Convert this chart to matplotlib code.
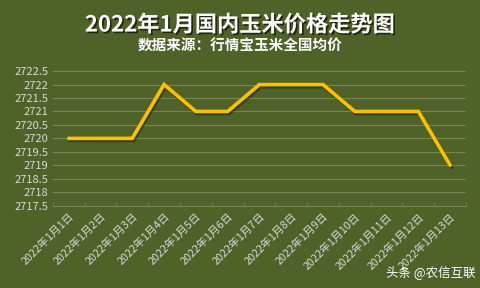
import matplotlib
matplotlib.use("Agg")
import matplotlib.pyplot as plt
import matplotlib.patheffects as pe
import numpy as np

plt.rcParams['font.family'] = ['Noto Sans CJK SC', 'DejaVu Sans']

dates = ["2022年1月%d日" % d for d in range(1, 14)]
prices = [2720, 2720, 2720, 2722, 2721, 2721, 2722, 2722, 2722, 2721, 2721, 2721, 2719]
yticks = [2717.5, 2718, 2718.5, 2719, 2719.5, 2720, 2720.5, 2721, 2721.5, 2722, 2722.5]

bg = "#4F6228"
fig = plt.figure(figsize=(4.8, 2.88), dpi=100, facecolor=bg)
ax = fig.add_axes([0.110, 0.286, 0.861, 0.467], facecolor=bg)

x = np.arange(len(dates))
ax.plot(x, prices, color="#FFC000", lw=2.6, solid_joinstyle="miter", solid_capstyle="round",
        path_effects=[pe.SimpleLineShadow(offset=(1, -1.5), shadow_color="black", alpha=0.35),
                      pe.Normal()], zorder=3)

ax.set_xlim(-0.5, len(dates) - 0.5)
ax.set_ylim(2717.5, 2722.5)
ax.set_yticks(yticks)
ax.set_yticklabels([("%g" % v) for v in yticks])
ax.grid(axis="y", color="#76864f", lw=0.8)
ax.set_axisbelow(True)
for s in ["top", "right", "left"]:
    ax.spines[s].set_visible(False)
ax.spines["bottom"].set_color("#76864f")
ax.spines["bottom"].set_linewidth(0.8)

ax.set_xticks(x)
ax.set_xticklabels(dates, rotation=45, ha="right", rotation_mode="anchor")
ax.set_xticks(np.arange(-0.5, len(dates)), minor=True)
ax.tick_params(axis="x", which="major", length=0, pad=4, labelsize=7.8, labelcolor="#D9D9D9")
ax.tick_params(axis="x", which="minor", length=3, color="#76864f", direction="in")
ax.tick_params(axis="y", length=0, pad=3, labelsize=8, labelcolor="#D9D9D9")

fig.text(0.5, 0.913, "2022年1月国内玉米价格走势图", ha="center", va="center",
         fontsize=16, fontweight="bold", color="white",
         path_effects=[pe.withSimplePatchShadow(offset=(1.2, -1.2), shadow_rgbFace="black", alpha=0.6)])
fig.text(0.5, 0.84, "数据来源：行情宝玉米全国均价", ha="center", va="center",
         fontsize=10.5, fontweight="bold", color="white")
fig.text(0.897, 0.055, "头条 @农信互联", ha="center", va="center",
         fontsize=9, color="white")

fig.savefig("out.png", dpi=100, facecolor=bg)
